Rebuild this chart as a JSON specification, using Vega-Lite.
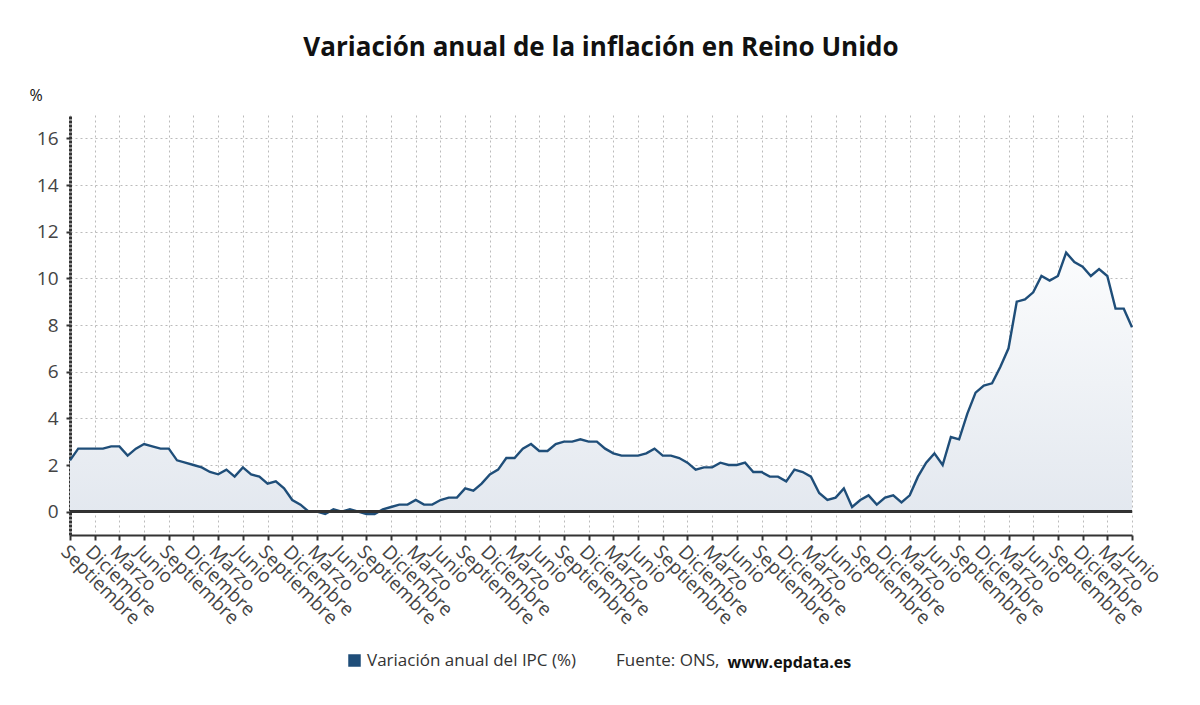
{
  "$schema": "https://vega.github.io/schema/vega-lite/v6.json",
  "width": 1062,
  "height": 420,
  "autosize": {"type": "none"},
  "padding": {"left": 70, "top": 115, "right": 68, "bottom": 170},
  "background": "white",
  "config": {"font": "Open Sans", "view": {"stroke": null}},
  "title": {"text": "Variación anual de la inflación en Reino Unido", "fontSize": 26, "fontWeight": "bold", "color": "#111111", "anchor": "middle", "frame": "group", "offset": 26},
  "data": {"values": [
    {"mes":"2012-09","v":2.2},{"mes":"2012-10","v":2.7},{"mes":"2012-11","v":2.7},{"mes":"2012-12","v":2.7},
    {"mes":"2013-01","v":2.7},{"mes":"2013-02","v":2.8},{"mes":"2013-03","v":2.8},{"mes":"2013-04","v":2.4},{"mes":"2013-05","v":2.7},{"mes":"2013-06","v":2.9},{"mes":"2013-07","v":2.8},{"mes":"2013-08","v":2.7},{"mes":"2013-09","v":2.7},{"mes":"2013-10","v":2.2},{"mes":"2013-11","v":2.1},{"mes":"2013-12","v":2.0},
    {"mes":"2014-01","v":1.9},{"mes":"2014-02","v":1.7},{"mes":"2014-03","v":1.6},{"mes":"2014-04","v":1.8},{"mes":"2014-05","v":1.5},{"mes":"2014-06","v":1.9},{"mes":"2014-07","v":1.6},{"mes":"2014-08","v":1.5},{"mes":"2014-09","v":1.2},{"mes":"2014-10","v":1.3},{"mes":"2014-11","v":1.0},{"mes":"2014-12","v":0.5},
    {"mes":"2015-01","v":0.3},{"mes":"2015-02","v":0.0},{"mes":"2015-03","v":0.0},{"mes":"2015-04","v":-0.1},{"mes":"2015-05","v":0.1},{"mes":"2015-06","v":0.0},{"mes":"2015-07","v":0.1},{"mes":"2015-08","v":0.0},{"mes":"2015-09","v":-0.1},{"mes":"2015-10","v":-0.1},{"mes":"2015-11","v":0.1},{"mes":"2015-12","v":0.2},
    {"mes":"2016-01","v":0.3},{"mes":"2016-02","v":0.3},{"mes":"2016-03","v":0.5},{"mes":"2016-04","v":0.3},{"mes":"2016-05","v":0.3},{"mes":"2016-06","v":0.5},{"mes":"2016-07","v":0.6},{"mes":"2016-08","v":0.6},{"mes":"2016-09","v":1.0},{"mes":"2016-10","v":0.9},{"mes":"2016-11","v":1.2},{"mes":"2016-12","v":1.6},
    {"mes":"2017-01","v":1.8},{"mes":"2017-02","v":2.3},{"mes":"2017-03","v":2.3},{"mes":"2017-04","v":2.7},{"mes":"2017-05","v":2.9},{"mes":"2017-06","v":2.6},{"mes":"2017-07","v":2.6},{"mes":"2017-08","v":2.9},{"mes":"2017-09","v":3.0},{"mes":"2017-10","v":3.0},{"mes":"2017-11","v":3.1},{"mes":"2017-12","v":3.0},
    {"mes":"2018-01","v":3.0},{"mes":"2018-02","v":2.7},{"mes":"2018-03","v":2.5},{"mes":"2018-04","v":2.4},{"mes":"2018-05","v":2.4},{"mes":"2018-06","v":2.4},{"mes":"2018-07","v":2.5},{"mes":"2018-08","v":2.7},{"mes":"2018-09","v":2.4},{"mes":"2018-10","v":2.4},{"mes":"2018-11","v":2.3},{"mes":"2018-12","v":2.1},
    {"mes":"2019-01","v":1.8},{"mes":"2019-02","v":1.9},{"mes":"2019-03","v":1.9},{"mes":"2019-04","v":2.1},{"mes":"2019-05","v":2.0},{"mes":"2019-06","v":2.0},{"mes":"2019-07","v":2.1},{"mes":"2019-08","v":1.7},{"mes":"2019-09","v":1.7},{"mes":"2019-10","v":1.5},{"mes":"2019-11","v":1.5},{"mes":"2019-12","v":1.3},
    {"mes":"2020-01","v":1.8},{"mes":"2020-02","v":1.7},{"mes":"2020-03","v":1.5},{"mes":"2020-04","v":0.8},{"mes":"2020-05","v":0.5},{"mes":"2020-06","v":0.6},{"mes":"2020-07","v":1.0},{"mes":"2020-08","v":0.2},{"mes":"2020-09","v":0.5},{"mes":"2020-10","v":0.7},{"mes":"2020-11","v":0.3},{"mes":"2020-12","v":0.6},
    {"mes":"2021-01","v":0.7},{"mes":"2021-02","v":0.4},{"mes":"2021-03","v":0.7},{"mes":"2021-04","v":1.5},{"mes":"2021-05","v":2.1},{"mes":"2021-06","v":2.5},{"mes":"2021-07","v":2.0},{"mes":"2021-08","v":3.2},{"mes":"2021-09","v":3.1},{"mes":"2021-10","v":4.2},{"mes":"2021-11","v":5.1},{"mes":"2021-12","v":5.4},
    {"mes":"2022-01","v":5.5},{"mes":"2022-02","v":6.2},{"mes":"2022-03","v":7.0},{"mes":"2022-04","v":9.0},{"mes":"2022-05","v":9.1},{"mes":"2022-06","v":9.4},{"mes":"2022-07","v":10.1},{"mes":"2022-08","v":9.9},{"mes":"2022-09","v":10.1},{"mes":"2022-10","v":11.1},{"mes":"2022-11","v":10.7},{"mes":"2022-12","v":10.5},
    {"mes":"2023-01","v":10.1},{"mes":"2023-02","v":10.4},{"mes":"2023-03","v":10.1},{"mes":"2023-04","v":8.7},{"mes":"2023-05","v":8.7},{"mes":"2023-06","v":7.9}
  ]},
  "layer": [
    {
      "encoding": {
        "x": {
          "field": "mes", "type": "ordinal", "sort": "ascending",
          "scale": {"type": "point", "padding": 0},
          "axis": {
            "values": ["2012-09","2012-12","2013-03","2013-06","2013-09","2013-12","2014-03","2014-06","2014-09","2014-12","2015-03","2015-06","2015-09","2015-12","2016-03","2016-06","2016-09","2016-12","2017-03","2017-06","2017-09","2017-12","2018-03","2018-06","2018-09","2018-12","2019-03","2019-06","2019-09","2019-12","2020-03","2020-06","2020-09","2020-12","2021-03","2021-06","2021-09","2021-12","2022-03","2022-06","2022-09","2022-12","2023-03","2023-06"],
            "labelExpr": "slice(datum.value,5)=='03'?'Marzo':slice(datum.value,5)=='06'?'Junio':slice(datum.value,5)=='09'?'Septiembre':'Diciembre'",
            "labelAngle": 45, "labelAlign": "left", "labelBaseline": "top",
            "labelFontSize": 19, "labelColor": "#444444", "labelPadding": 2,
            "labelOverlap": false, "labelFlush": false, "labelBound": false,
            "grid": true, "gridDash": [2, 3], "gridColor": "#bbbbbb", "gridWidth": 1,
            "domainColor": "#333333", "domainWidth": 2,
            "tickColor": "#333333", "tickSize": 5, "tickWidth": 2,
            "title": "www.epdata.es", "titleFontWeight": "bold", "titleFontSize": 16, "titleColor": "#111111",
            "titleX": 657, "titleY": 132, "titleAlign": "left", "titleBaseline": "alphabetic", "titleAngle": 0
          }
        },
        "y": {
          "field": "v", "type": "quantitative",
          "scale": {"domain": [-1, 17], "nice": false, "zero": false},
          "axis": {
            "values": [0, 2, 4, 6, 8, 10, 12, 14, 16],
            "grid": true, "gridDash": [2, 3], "gridColor": "#bbbbbb", "gridWidth": 1,
            "domainColor": "#333333", "domainWidth": 3, "domainDash": [3, 1],
            "tickColor": "#333333", "tickSize": 4, "tickWidth": 2,
            "labelFontSize": 19, "labelColor": "#444444", "labelPadding": 8,
            "title": "%", "titleAngle": 0, "titleX": -41, "titleY": -15, "titleAlign": "left", "titleBaseline": "alphabetic",
            "titleFontSize": 16, "titleFontWeight": "normal", "titleColor": "#111111"
          }
        }
      },
      "layer": [
        {
          "mark": {
            "type": "area",
            "color": {"gradient": "linear", "x1": 0, "y1": 0, "x2": 0, "y2": 1, "stops": [{"offset": 0, "color": "#fbfcfd"}, {"offset": 1, "color": "#e3e8ef"}]}
          }
        },
        {
          "mark": {"type": "line", "strokeWidth": 2.4},
          "encoding": {
            "color": {
              "datum": "Variación anual del IPC (%)", "type": "nominal",
              "scale": {"range": ["#1f4e79"]},
              "legend": {
                "orient": "none", "legendX": 276, "legendY": 537, "direction": "horizontal",
                "symbolType": "square", "symbolSize": 121, "symbolFillColor": "#1f4e79", "symbolStrokeColor": "#1f4e79",
                "labelFontSize": 17, "labelColor": "#333333", "labelLimit": 400,
                "title": "Fuente: ONS,", "titleOrient": "right", "titleFontSize": 17, "titleFontWeight": "normal",
                "titleColor": "#333333", "titlePadding": 40, "titleLimit": 300, "padding": 0
              }
            }
          }
        }
      ]
    },
    {
      "mark": {"type": "rule", "color": "#333333", "strokeWidth": 2},
      "encoding": {"y": {"datum": 0, "type": "quantitative"}}
    }
  ]
}
